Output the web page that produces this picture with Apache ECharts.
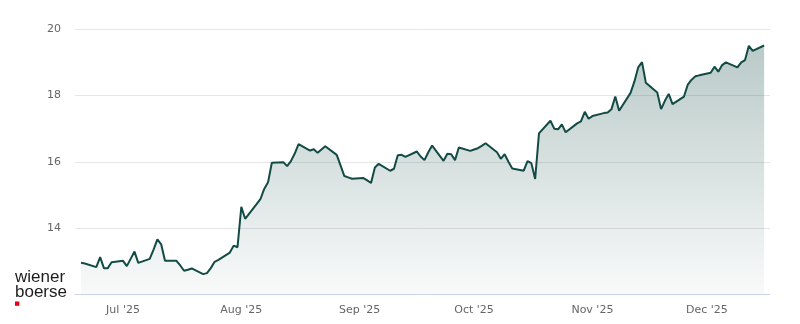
<!DOCTYPE html>
<html>
<head>
<meta charset="utf-8">
<script src="https://cdn.jsdelivr.net/npm/echarts@6/dist/echarts.min.js"></script>
<style>
  html, body { margin: 0; padding: 0; background: #ffffff; }
  #chart { width: 800px; height: 324px; }
</style>
</head>
<body>
<div id="chart"></div>
<script>
// ---- data ----
const dates = [
  '2025-06-20','2025-06-21',
  '2025-06-24','2025-06-25','2025-06-26','2025-06-27','2025-06-28',
  '2025-07-01','2025-07-02','2025-07-03','2025-07-04','2025-07-05',
  '2025-07-08','2025-07-09','2025-07-10','2025-07-11','2025-07-12',
  '2025-07-15','2025-07-16','2025-07-17','2025-07-18','2025-07-19',
  '2025-07-22','2025-07-23','2025-07-24','2025-07-25','2025-07-26',
  '2025-07-29','2025-07-30','2025-07-31','2025-08-01','2025-08-02',
  '2025-08-05','2025-08-06','2025-08-07','2025-08-08','2025-08-09',
  '2025-08-12','2025-08-13','2025-08-14','2025-08-15','2025-08-16',
  '2025-08-19','2025-08-20','2025-08-21','2025-08-22','2025-08-23',
  '2025-08-26','2025-08-27','2025-08-28','2025-08-29','2025-08-30',
  '2025-09-02','2025-09-03','2025-09-04','2025-09-05','2025-09-06',
  '2025-09-09','2025-09-10','2025-09-11','2025-09-12','2025-09-13',
  '2025-09-16','2025-09-17','2025-09-18','2025-09-19','2025-09-20',
  '2025-09-23','2025-09-24','2025-09-25','2025-09-26','2025-09-27',
  '2025-09-30','2025-10-01','2025-10-02','2025-10-03','2025-10-04',
  '2025-10-07','2025-10-08','2025-10-09','2025-10-10','2025-10-11',
  '2025-10-14','2025-10-15','2025-10-16','2025-10-17','2025-10-18',
  '2025-10-21','2025-10-22','2025-10-23','2025-10-24','2025-10-25',
  '2025-10-28','2025-10-29','2025-10-30','2025-10-31','2025-11-01',
  '2025-11-04','2025-11-05','2025-11-06','2025-11-07','2025-11-08',
  '2025-11-11','2025-11-12','2025-11-13','2025-11-14','2025-11-15',
  '2025-11-18','2025-11-19','2025-11-20','2025-11-21','2025-11-22',
  '2025-11-25','2025-11-26','2025-11-27','2025-11-28','2025-11-29',
  '2025-12-02','2025-12-03','2025-12-04','2025-12-05','2025-12-06',
  '2025-12-09','2025-12-10','2025-12-11','2025-12-12','2025-12-13',
  '2025-12-16'
];
const prices = [
  12.95,12.93,
  12.82,13.12,12.79,12.79,12.97,
  13.01,12.85,13.07,13.29,12.95,
  13.07,13.35,13.66,13.51,13.01,
  13.01,12.87,12.71,12.74,12.78,
  12.61,12.64,12.79,12.98,13.04,
  13.26,13.47,13.42,14.64,14.28,
  14.72,14.87,15.18,15.38,15.97,
  15.99,15.87,16.02,16.25,16.53,
  16.34,16.38,16.27,16.37,16.47,
  16.21,15.89,15.57,15.53,15.49,
  15.51,15.44,15.36,15.83,15.94,
  15.73,15.79,16.20,16.21,16.15,
  16.31,16.16,16.05,16.29,16.49,
  16.03,16.24,16.23,16.05,16.43,
  16.33,16.37,16.41,16.48,16.56,
  16.29,16.09,16.23,16.00,15.80,
  15.73,16.02,15.96,15.48,16.86,
  17.24,17.00,16.98,17.13,16.89,
  17.16,17.22,17.51,17.30,17.38,
  17.47,17.49,17.59,17.97,17.54,
  18.08,18.42,18.85,19.01,18.39,
  18.09,17.59,17.84,18.05,17.74,
  17.97,18.33,18.48,18.58,18.61,
  18.69,18.87,18.72,18.92,19.00,
  18.85,19.00,19.07,19.50,19.35,
  19.51
];
const monthNames = ['Jan','Feb','Mar','Apr','May','Jun','Jul','Aug','Sep','Oct','Nov','Dec'];
const yTicks = [12, 14, 16, 18, 20];
const xMin = '2025-06-18 10:00';
const xMax = '2025-12-17 13:00';

const seriesData = dates.map((d, i) => [d, prices[i]]);
const DAY = 86400000;

const chart = echarts.init(document.getElementById('chart'), null, { renderer: 'canvas' });
chart.setOption({
  animation: false,
  backgroundColor: '#ffffff',
  grid: { left: 75, right: 30, top: 29.3, bottom: 29.7, containLabel: false },
  xAxis: {
    type: 'time',
    min: xMin,
    max: xMax,
    splitNumber: 6,
    minInterval: 28 * DAY,
    maxInterval: 31 * DAY,
    axisLine: { show: true, lineStyle: { color: '#ccd6eb', width: 1 } },
    axisTick: { show: false },
    splitLine: { show: false },
    axisLabel: {
      color: '#666666',
      fontSize: 11,
      fontFamily: 'DejaVu Sans',
      margin: 10,
      formatter: function (v) {
        const d = new Date(v);
        return monthNames[d.getMonth()] + " '" + String(d.getFullYear()).slice(2);
      }
    }
  },
  yAxis: {
    type: 'value',
    min: yTicks[0],
    max: yTicks[yTicks.length - 1],
    interval: 2,
    axisLine: { show: false },
    axisTick: { show: false },
    splitLine: { show: true, lineStyle: { color: '#e6e6e6', width: 1 } },
    axisLabel: {
      color: '#666666',
      fontSize: 11,
      fontFamily: 'DejaVu Sans',
      margin: 14,
      padding: [3, 0, 0, 0],
      showMinLabel: false
    }
  },
  series: [{
    type: 'line',
    data: seriesData,
    showSymbol: false,
    symbol: 'none',
    lineStyle: { color: '#124b45', width: 2 },
    areaStyle: {
      color: new echarts.graphic.LinearGradient(0, 0, 0, 1, [
        { offset: 0, color: 'rgba(18,75,69,0.42)' },
        { offset: 1, color: 'rgba(18,75,69,0.04)' }
      ])
    }
  }],
  graphic: [
    { type: 'text', left: 15, top: 268.5, style: { text: 'wiener', fontSize: 17, fontFamily: 'Liberation Sans', fill: '#1e1e1e' } },
    { type: 'text', left: 15, top: 283.5, style: { text: 'boerse', fontSize: 17, fontFamily: 'Liberation Sans', fill: '#1e1e1e' } },
    { type: 'rect', left: 15, top: 301.5, shape: { width: 4.3, height: 4.3 }, style: { fill: '#e2001a' } }
  ]
});
</script>
</body>
</html>
